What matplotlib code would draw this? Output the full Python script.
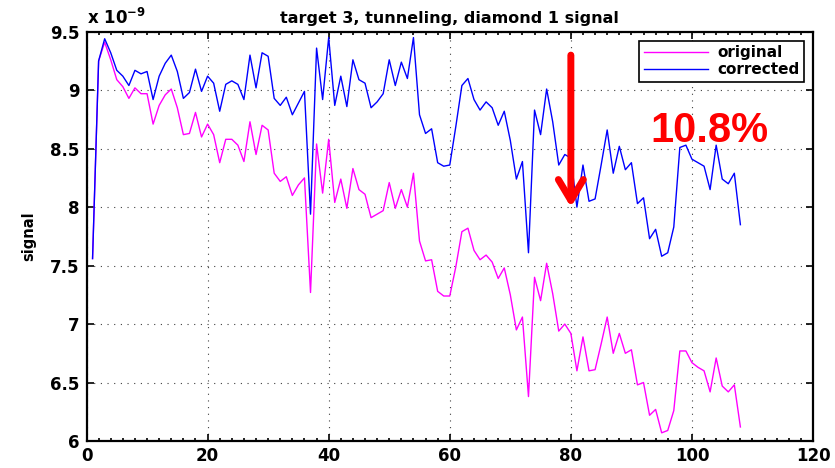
import numpy as np
import matplotlib
matplotlib.use('Agg')
import matplotlib.pyplot as plt
from matplotlib.ticker import FuncFormatter, MultipleLocator

# diamond 1 signal per sample, in units of 1e-9
sample = np.arange(1, 109)
original = [7.56, 9.25, 9.41, 9.26, 9.09, 9.03, 8.93, 9.02, 8.97, 8.97,
            8.71, 8.87, 8.96, 9.01, 8.85, 8.62, 8.63, 8.81, 8.60, 8.71,
            8.62, 8.38, 8.58, 8.58, 8.53, 8.39, 8.73, 8.45, 8.70, 8.66,
            8.29, 8.22, 8.26, 8.10, 8.19, 8.25, 7.27, 8.54, 8.12, 8.58,
            8.04, 8.24, 7.99, 8.33, 8.15, 8.11, 7.91, 7.94, 7.97, 8.21,
            7.99, 8.15, 8.00, 8.29, 7.71, 7.54, 7.55, 7.28, 7.24, 7.24,
            7.49, 7.79, 7.82, 7.63, 7.55, 7.59, 7.53, 7.39, 7.48, 7.25,
            6.95, 7.06, 6.38, 7.40, 7.20, 7.52, 7.26, 6.94, 7.00, 6.92,
            6.60, 6.89, 6.60, 6.61, 6.83, 7.06, 6.75, 6.92, 6.75, 6.78,
            6.48, 6.50, 6.22, 6.27, 6.07, 6.09, 6.26, 6.77, 6.77, 6.67,
            6.63, 6.60, 6.42, 6.71, 6.47, 6.42, 6.48, 6.12]
corrected = [7.56, 9.25, 9.44, 9.32, 9.17, 9.12, 9.04, 9.17, 9.14, 9.16,
             8.92, 9.12, 9.23, 9.30, 9.16, 8.93, 8.98, 9.18, 8.99, 9.12,
             9.06, 8.82, 9.05, 9.08, 9.05, 8.92, 9.30, 9.02, 9.32, 9.29,
             8.93, 8.87, 8.94, 8.79, 8.89, 8.99, 7.94, 9.36, 8.92, 9.45,
             8.87, 9.12, 8.86, 9.26, 9.09, 9.06, 8.85, 8.90, 8.97, 9.26,
             9.04, 9.24, 9.10, 9.45, 8.79, 8.63, 8.67, 8.38, 8.35, 8.36,
             8.69, 9.04, 9.10, 8.92, 8.83, 8.90, 8.85, 8.70, 8.82, 8.57,
             8.24, 8.39, 7.61, 8.83, 8.62, 9.01, 8.73, 8.36, 8.45, 8.42,
             8.00, 8.36, 8.05, 8.07, 8.36, 8.66, 8.29, 8.52, 8.32, 8.38,
             8.03, 8.08, 7.73, 7.81, 7.58, 7.61, 7.83, 8.51, 8.53, 8.41,
             8.38, 8.35, 8.15, 8.53, 8.24, 8.20, 8.29, 7.85]

drop_x = 80
drop_from, drop_to = 9.30, 8.0
drop_label = '10.8%'

plt.rcParams['font.family'] = 'DejaVu Sans'
plt.rcParams['font.weight'] = 'bold'

fig = plt.figure(figsize=(8.35, 4.68), dpi=100)
ax = fig.add_axes([0.1036, 0.0577, 0.8701, 0.8745])

ax.plot(sample, original, color='#ff00ff', lw=1.0, label='original')
ax.plot(sample, corrected, color='#0000ff', lw=1.0, label='corrected')

ax.set_xlim(0, 120)
ax.set_ylim(6, 9.5)
ax.xaxis.set_major_locator(MultipleLocator(20))
ax.xaxis.set_minor_locator(MultipleLocator(2))
ax.yaxis.set_major_locator(MultipleLocator(0.5))
ax.yaxis.set_major_formatter(FuncFormatter(lambda v, p: '%g' % v))

ax.grid(True, which='major', color='0.25', linestyle=(0, (1, 5)), lw=0.8)
ax.tick_params(which='both', direction='in', top=True, right=True,
               labelsize=12, width=1.2)
ax.tick_params(axis='x', which='major', pad=4)
ax.tick_params(axis='y', which='major', pad=5)
ax.tick_params(which='major', length=5)
ax.tick_params(which='minor', length=2.5)
for sp in ax.spines.values():
    sp.set_linewidth(1.6)

ax.set_title('target 3, tunneling, diamond 1 signal', fontsize=11.5,
             fontweight='bold', pad=6)
ax.set_ylabel('signal', fontsize=10.5, fontweight='bold', labelpad=10)
ax.text(0.0, 1.008, r'x 10$^{\mathbf{-9}}$', transform=ax.transAxes,
        fontsize=12, fontweight='bold', ha='left', va='bottom')

leg = ax.legend(loc='upper right', fontsize=11, fancybox=False,
                framealpha=1, edgecolor='black', handlelength=4.2,
                borderpad=0.3, labelspacing=0.1, handletextpad=0.6,
                borderaxespad=0.6)
leg.get_frame().set_linewidth(1.2)

ax.annotate('', xy=(drop_x, drop_to), xytext=(drop_x, drop_from),
            arrowprops=dict(arrowstyle='->,head_length=0.75,head_width=0.45',
                            color='#ff0000', lw=5, mutation_scale=20,
                            shrinkA=0, shrinkB=0))
ax.text(102.9, 8.65, drop_label, color='#ff0000', fontsize=30,
        fontweight='bold', family='Liberation Sans', ha='center', va='center')

fig.savefig('out.png', dpi=100)
